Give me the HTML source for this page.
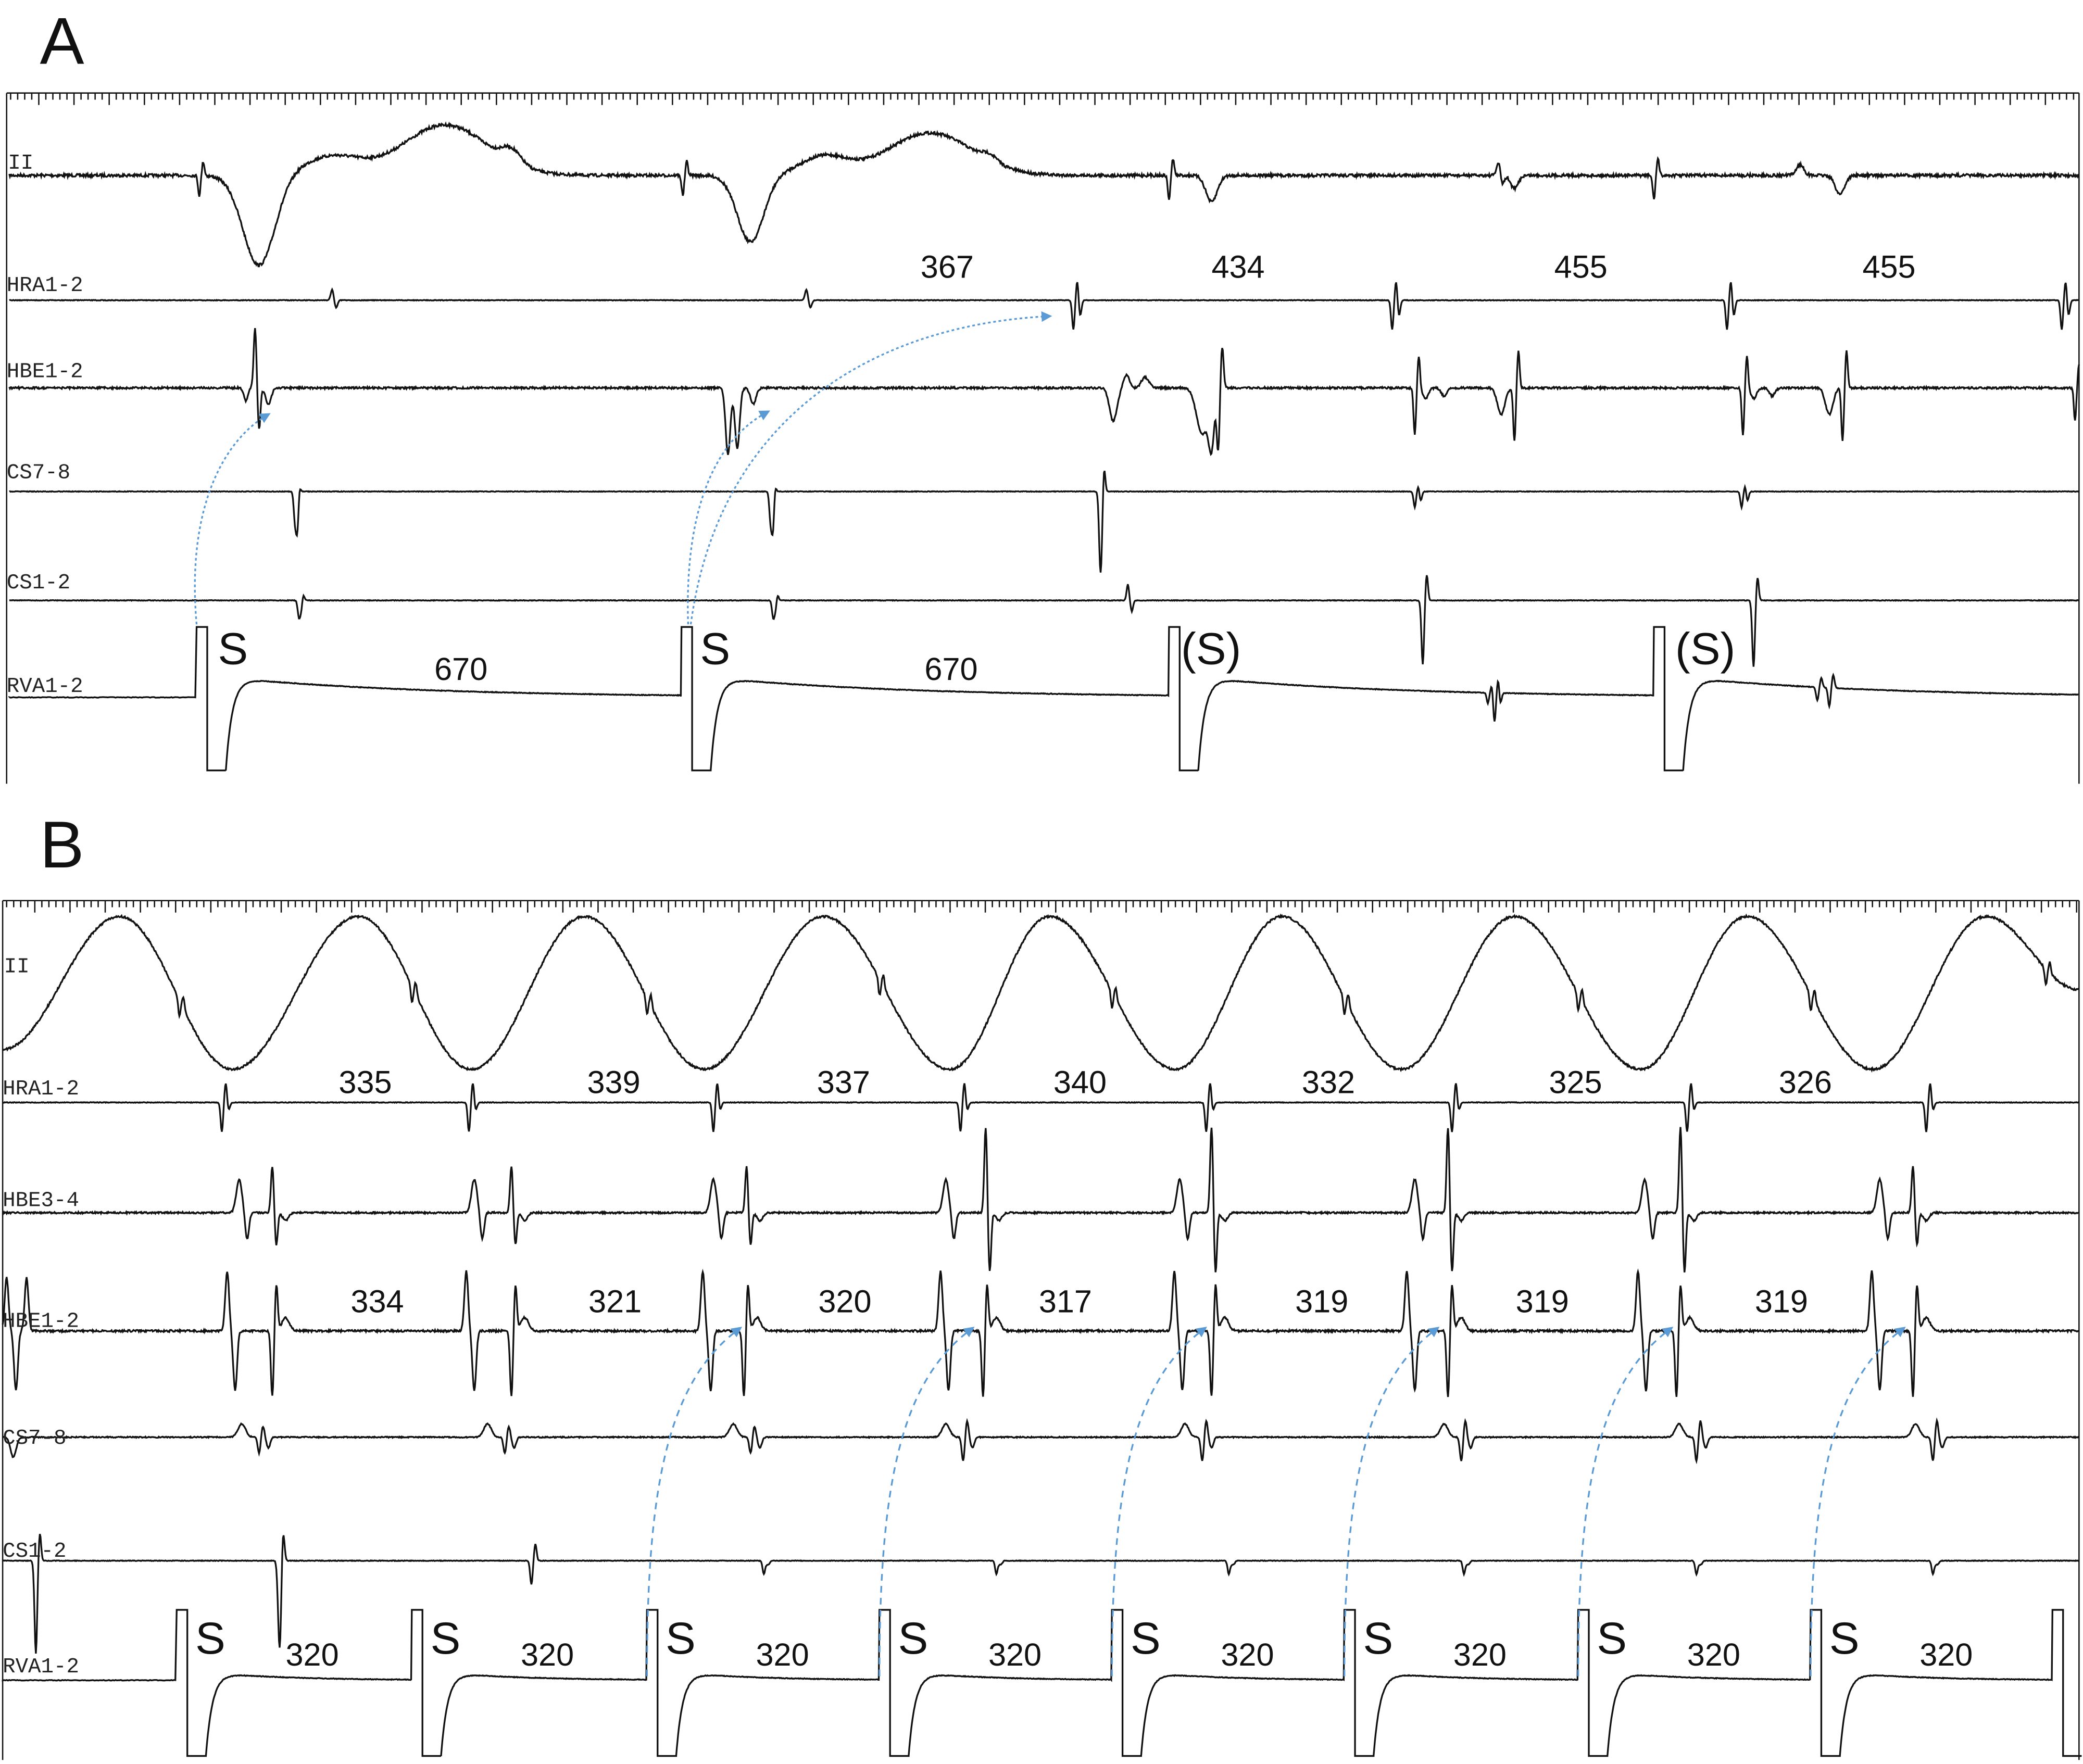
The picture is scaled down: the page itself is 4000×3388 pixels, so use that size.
<!DOCTYPE html>
<html><head><meta charset="utf-8">
<style>
html,body{margin:0;padding:0;background:#fff;}
svg{display:block;}
.lab{font-family:"Liberation Mono",monospace;font-size:16px;fill:#222;}
.num{font-family:"Liberation Sans",sans-serif;font-size:24px;fill:#111;}
.s{font-family:"Liberation Sans",sans-serif;font-size:34px;fill:#111;}
.big{font-family:"Liberation Sans",sans-serif;font-size:50px;fill:#111;}
</style></head>
<body>
<svg id="sv" width="4000" height="3388" viewBox="0 0 1568 1328" xmlns="http://www.w3.org/2000/svg">
<rect width="1568" height="1328" fill="#fff"/>
<defs>
<marker id="ar" markerWidth="8" markerHeight="8" refX="6" refY="4" orient="auto" markerUnits="userSpaceOnUse"><path d="M0,0 L8,4 L0,8 z" fill="#5b9bd5"/></marker>
</defs>
<g id="traces" fill="none" stroke="#111" stroke-width="1.3"></g>
<g id="ticks" stroke="#111" stroke-width="1"></g>
<text class="big" x="30" y="48">A</text>
<text class="lab" x="6" y="127">II</text>
<text class="lab" x="5" y="219">HRA1-2</text>
<text class="lab" x="5" y="284">HBE1-2</text>
<text class="lab" x="5" y="360">CS7-8</text>
<text class="lab" x="5" y="443">CS1-2</text>
<text class="lab" x="5" y="521">RVA1-2</text>
<text class="num" x="713" y="209" text-anchor="middle">367</text>
<text class="num" x="932" y="209" text-anchor="middle">434</text>
<text class="num" x="1190" y="209" text-anchor="middle">455</text>
<text class="num" x="1422" y="209" text-anchor="middle">455</text>
<text class="num" x="347" y="512" text-anchor="middle">670</text>
<text class="num" x="716" y="512" text-anchor="middle">670</text>
<text class="s" x="164" y="500">S</text>
<text class="s" x="527" y="500">S</text>
<text class="s" x="889" y="500">(S)</text>
<text class="s" x="1261" y="500">(S)</text>
<text class="big" x="30" y="653">B</text>
<text class="lab" x="3" y="732">II</text>
<text class="lab" x="2" y="824">HRA1-2</text>
<text class="lab" x="2" y="908">HBE3-4</text>
<text class="lab" x="2" y="999">HBE1-2</text>
<text class="lab" x="2" y="1087">CS7-8</text>
<text class="lab" x="2" y="1172">CS1-2</text>
<text class="lab" x="2" y="1259">RVA1-2</text>
<g class="num" text-anchor="middle">
<text x="275" y="823">335</text><text x="462" y="823">339</text><text x="635" y="823">337</text><text x="813" y="823">340</text><text x="1000" y="823">332</text><text x="1186" y="823">325</text><text x="1359" y="823">326</text>
<text x="284" y="988">334</text><text x="463" y="988">321</text><text x="636" y="988">320</text><text x="802" y="988">317</text><text x="995" y="988">319</text><text x="1161" y="988">319</text><text x="1341" y="988">319</text>
</g>
<g id="bS"></g>
<g id="arrows" fill="none" stroke="#5b9bd5" stroke-width="1.3"></g>
</svg>
<script>
var NS="http://www.w3.org/2000/svg";
var seed=7;function rnd(){seed=(seed*16807)%2147483647;return seed/2147483647-0.5;}
function add(g,tag,attrs){var e=document.createElementNS(NS,tag);for(var k in attrs)e.setAttribute(k,attrs[k]);document.getElementById(g).appendChild(e);return e;}
function sp(list,x,a,w){list.push({x:x,a:-a,w:w||1.4});list.push({x:x+3,a:a*0.7,w:w||1.4});}
function sumc(comps,x){var y=0;for(var i=0;i<comps.length;i++){var c=comps[i];var t=(x-c.x)/c.w;if(t>-6&&t<6)y+=c.a*Math.exp(-t*t);}return y;}
function trace(y0,x0,x1,comps,noise,fn){var d="";for(var x=x0;x<=x1;x+=0.5){var y=y0+(noise||0.6)*rnd()+sumc(comps,x);if(fn)y+=fn(x);d+=(d?"L":"M")+x.toFixed(1)+","+y.toFixed(1);}add("traces","path",{d:d});}
function rva(y0,x0,x1,paces,up,dn,over,tau,ex){ex=ex||[];var d="M"+x0+","+y0;
var x=x0;for(var i=0;i<paces.length;i++){var p=paces[i];var nxt=(i+1<paces.length)?paces[i+1]:x1;
 for(var xx=x;xx<p;xx+=1){var yy=y0;if(i>0){var t=xx-(paces[i-1]+22);yy=y0-over*Math.exp(-t/tau);}yy+=sumc(ex,xx);d+="L"+xx+","+(yy+0.5*rnd()).toFixed(1);}
 d+="L"+p+","+(y0-up)+"L"+(p+8)+","+(y0-up)+"L"+(p+8)+","+(y0+dn)+"L"+(p+22)+","+(y0+dn);
 for(var xx=p+22;xx<Math.min(nxt,x1);xx+=0.5){var t=xx-(p+22);var yy=y0+(dn)*Math.exp(-t/5)-over*(1-Math.exp(-t/5))*Math.exp(-t/tau)+sumc(ex,xx);d+="L"+xx+","+(yy+0.5*rnd()).toFixed(1);}
 x=Math.min(nxt,x1);}
add("traces","path",{d:d});}
function ticks(y,x0,x1){add("ticks","line",{x1:x0,y1:y,x2:x1,y2:y});var n=0;for(var x=x0+3;x<x1;x+=5.3){n++;add("ticks","line",{x1:x,y1:y,x2:x,y2:y+(n%5==0?9:5)});}}
ticks(70,5,1565);ticks(678,2,1565);
add("ticks","line",{x1:5,y1:70,x2:5,y2:590});add("ticks","line",{x1:1565,y1:70,x2:1565,y2:590});
add("ticks","line",{x1:2,y1:678,x2:2,y2:1325});add("ticks","line",{x1:1565,y1:678,x2:1565,y2:1325});
var c=[];sp(c,150,-15,1.3);c.push({x:195,a:68,w:17});c.push({x:250,a:-14,w:30});c.push({x:335,a:-38,w:45});c.push({x:385,a:-10,w:10});
sp(c,514,-15,1.3);c.push({x:565,a:50,w:14});c.push({x:620,a:-14,w:25});c.push({x:700,a:-32,w:45});c.push({x:745,a:-5,w:8});
sp(c,880,-18,1.3);c.push({x:912,a:20,w:6});sp(c,1128,10,2);c.push({x:1140,a:10,w:4});sp(c,1245,-18,1.3);c.push({x:1355,a:-8,w:4});c.push({x:1385,a:14,w:5});
trace(132,7,1565,c,2.2);
c=[];[250,607].forEach(function(x){sp(c,x,8,1.5);});[808,1048,1300,1552].forEach(function(x){sp(c,x,-22,1.3);c.push({x:x+5,a:12,w:1.5});});
trace(226,7,1565,c,0.5);
c=[];sp(c,192,45,1.5);c.push({x:185,a:10,w:2});c.push({x:202,a:12,w:3});
c.push({x:548,a:50,w:2.5});c.push({x:555,a:45,w:2.5});c.push({x:567,a:12,w:3});
c.push({x:838,a:25,w:4});c.push({x:848,a:-10,w:3});c.push({x:862,a:-8,w:4});c.push({x:905,a:35,w:6});sp(c,917,-45,1.5);c.push({x:912,a:40,w:3});
[1065,1312].forEach(function(x){sp(c,x,-35,1.3);c.push({x:x+8,a:8,w:3});c.push({x:x+22,a:6,w:3});sp(c,x+75,-40,1.3);c.push({x:x+65,a:20,w:4});});
sp(c,1562,-25,1.2);
trace(292,7,1565,c,1.5);
c=[];[222,580].forEach(function(x){sp(c,x,-20,1.3);c.push({x:x+2,a:35,w:1.5});});sp(c,828,-30,1.3);c.push({x:829,a:40,w:1.5});
[1065,1311].forEach(function(x){sp(c,x,-12,1.3);c.push({x:x+4,a:10,w:1.5});});
trace(370,7,1565,c,0.5);
c=[];[225,582].forEach(function(x){sp(c,x,-12,1.3);c.push({x:x+2,a:10,w:1.5});});
sp(c,849,12,1.3);sp(c,1071,-28,1.3);c.push({x:1071,a:20,w:1.5});sp(c,1320,-25,1.3);c.push({x:1320,a:25,w:1.5});
trace(452,7,1565,c,0.5);
var ex=[];sp(ex,1125,-22,1.3);ex.push({x:1129,a:12,w:1.5});sp(ex,1120,-8,1.2);sp(ex,1368,-10,1.3);sp(ex,1377,-14,1.3);
rva(525,7,1565,[148,513,880,1245],53,55,15,150,ex);
var P=[90,270,440,620,790,965,1140,1315,1495];
function iiB(x){var T=[175,355,530,715,885,1055,1235,1410];
 var all=[[2,790]];for(var i=0;i<P.length;i++){all.push([P[i],690]);if(i<T.length)all.push([T[i],805]);}all.push([1565,745]);
 for(var i=0;i<all.length-1;i++){if(x>=all[i][0]&&x<=all[i+1][0]){var t=(x-all[i][0])/(all[i+1][0]-all[i][0]);return all[i][1]+(all[i+1][1]-all[i][1])*(1-Math.cos(Math.PI*t))/2;}}return 745;}
c=[];[135,310,487,662,837,1012,1188,1363,1540].forEach(function(x){sp(c,x,-12,1.2);});
trace(0,2,1565,c,1.5,iiB);
c=[];[167,353,537,723,908,1093,1270,1450].forEach(function(x){sp(c,x,-22,1.3);c.push({x:x+5,a:6,w:1.5});});
trace(830,2,1565,c,0.5);
c=[];[[180,205],[357,385],[537,562],[712,742],[888,912],[1065,1090],[1238,1265],[1415,1440]].forEach(function(p,i){c.push({x:p[0],a:-25,w:3});c.push({x:p[0]+6,a:20,w:2});sp(c,p[1],i>=3&&i<=6?65:35,1.5);c.push({x:p[1]+10,a:6,w:3});});
trace(913,2,1565,c,1.2);
c=[];[[175,205],[355,385],[533,560],[712,740],[888,912],[1063,1090],[1237,1262],[1413,1440]].forEach(function(p){c.push({x:p[0]-4,a:-45,w:2});c.push({x:p[0]+2,a:45,w:2});sp(c,p[1],-50,1.5);c.push({x:p[1]+10,a:-10,w:4});});
c.push({x:5,a:-40,w:2});c.push({x:12,a:45,w:2});c.push({x:20,a:-40,w:2});
trace(1002,2,1565,c,1.5);
c=[];[190,375,560,720,900,1095,1272,1450].forEach(function(x,i){c.push({x:x-8,a:-10,w:4});sp(c,x+5,i>=3?-18:-12,1.5);c.push({x:x+12,a:8,w:2});});c.push({x:10,a:15,w:3});
trace(1082,2,1565,c,0.8);
c=[];sp(c,27,-30,1.3);c.push({x:27,a:40,w:1.5});sp(c,210,-35,1.5);c.push({x:211,a:40,w:1.5});sp(c,400,-18,1.3);
[575,750,925,1102,1277,1455].forEach(function(x){sp(c,x,-10,1.3);c.push({x:x+3,a:10,w:1.5});});
trace(1175,2,1565,c,0.5);
rva(1265,2,1565,[133,310,487,662,837,1012,1188,1363,1545],53,57,6,60);
var bx=[133,310,487,662,837,1012,1188,1363];
bx.forEach(function(x){var t=add("bS","text",{x:x+14,y:1245,"class":"s"});t.textContent="S";var n=add("bS","text",{x:x+82,y:1254,"class":"num"});n.textContent="320";});
function arr(d,dash){add("arrows","path",{d:d,"stroke-dasharray":dash,"marker-end":"url(#ar)"});}
arr("M148,470 C140,380 170,330 202,312","2,2");
arr("M518,470 C515,380 540,330 578,310","2,2");
arr("M520,470 C540,320 650,245 790,238","2,2");
[487,662,837,1012,1188,1363].forEach(function(x){arr("M"+x+",1262 C"+(x)+",1120 "+(x+15)+",1040 "+(x+70)+",1000","5,4");});
</script>
</body></html>
